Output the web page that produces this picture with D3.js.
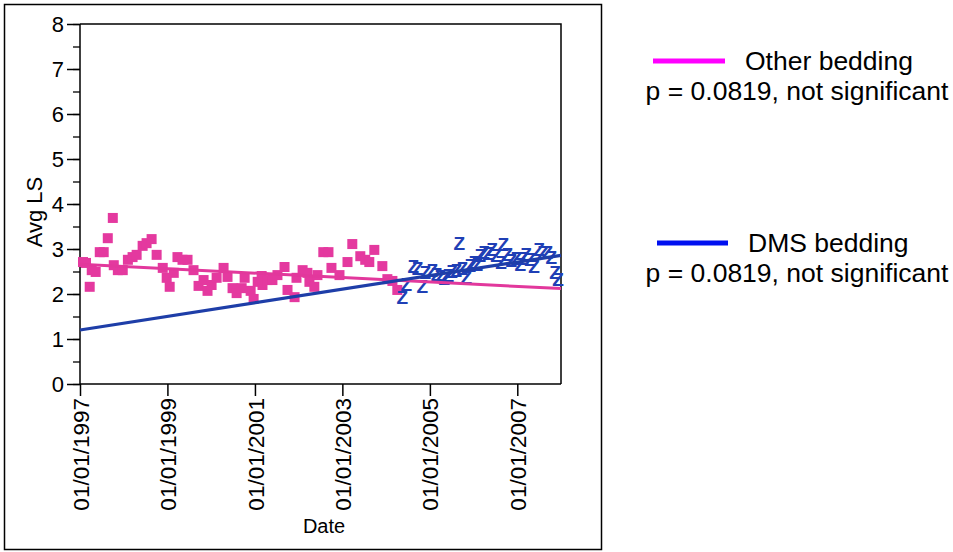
<!DOCTYPE html>
<html><head><meta charset="utf-8">
<script src="https://cdn.jsdelivr.net/npm/d3@7"></script>
<style>
body{margin:0;background:#fff;}
text{font-family:Arial,"Liberation Sans",sans-serif;fill:#000;}
</style></head>
<body><svg id="c" width="953" height="552"></svg>
<script>
// ---- data ----
const otherDates = ["1997-01-26","1997-02-20","1997-03-23","1997-04-09","1997-05-12","1997-06-15","1997-07-18","1997-08-21","1997-10-02","1997-10-10","1997-11-13","1997-12-24","1998-02-05","1998-03-16","1998-04-19","1998-06-08","1998-07-11","1998-08-22","1998-10-03","1998-11-23","1998-12-26","1999-01-20","1999-02-23","1999-03-26","1999-05-07","1999-06-18","1999-08-07","1999-09-18","1999-10-30","1999-12-02","2000-01-05","2000-02-16","2000-04-14","2000-05-17","2000-06-28","2000-08-01","2000-09-12","2000-10-07","2000-11-26","2000-12-21","2001-01-24","2001-02-26","2001-03-05","2001-04-16","2001-05-27","2001-07-08","2001-09-05","2001-09-30","2001-11-28","2001-12-14","2002-02-03","2002-03-15","2002-04-01","2002-05-12","2002-06-07","2002-07-26","2002-09-07","2002-10-02","2002-12-08","2003-02-13","2003-03-25","2003-05-31","2003-07-11","2003-08-14","2003-09-25","2003-12-01","2004-01-12","2004-02-23","2004-04-04"];
const otherValues = [2.71,2.69,2.16,2.53,2.49,2.93,2.93,3.24,3.69,2.64,2.53,2.53,2.76,2.82,2.87,3.07,3.13,3.22,2.87,2.58,2.36,2.16,2.47,2.82,2.76,2.76,2.53,2.18,2.31,2.07,2.20,2.36,2.58,2.38,2.13,2.02,2.13,2.36,2.07,1.89,2.27,2.40,2.20,2.31,2.31,2.42,2.60,2.09,1.93,2.36,2.53,2.47,2.27,2.16,2.42,2.93,2.93,2.58,2.42,2.71,3.11,2.84,2.76,2.71,2.98,2.62,2.33,2.29,2.09];
const dmsDates = ["2004-05-15","2004-06-18","2004-08-16","2004-09-19","2004-10-30","2004-11-24","2005-01-22","2005-02-25","2005-03-28","2005-05-01","2005-06-04","2005-07-06","2005-08-09","2005-09-04","2005-09-29","2005-11-02","2005-12-05","2006-01-08","2006-02-02","2006-02-27","2006-03-30","2006-05-02","2006-06-05","2006-07-08","2006-08-19","2006-09-06","2006-10-09","2006-11-12","2006-12-23","2007-01-26","2007-02-19","2007-03-15","2007-04-18","2007-05-21","2007-07-02","2007-08-05","2007-09-08","2007-10-11","2007-11-13","2007-12-08"];
const dmsValues = [1.93,2.22,2.62,2.58,2.18,2.49,2.53,2.44,2.40,2.36,2.42,2.51,2.53,3.13,2.58,2.38,2.64,2.71,2.67,2.87,2.93,2.91,3.00,2.87,2.71,3.11,2.89,2.76,2.80,2.67,2.80,2.89,2.78,2.62,3.00,2.93,2.93,2.82,2.49,2.33];
const fitDates = ["1997-01-01","2008-01-01"];
const otherFit = [2.66, 2.12];
const dmsFit = [1.20, 2.86];
const yTickValues = [0,1,2,3,4,5,6,7,8];
const xTickYears = [1997,1999,2001,2003,2005,2007];
const legendItems = [
  {name:"Other bedding", note:"p = 0.0819, not significant"},
  {name:"DMS bedding", note:"p = 0.0819, not significant"}
];

// ---- drawing ----
const parse = d3.timeParse("%Y-%m-%d");
const svg = d3.select("#c");
const L=80, R=561, T=24, B=384;
const x = d3.scaleTime().domain([new Date(1997,0,1), new Date(2008,0,1)]).range([L,R]);
const y = d3.scaleLinear().domain([0,8]).range([B,T]);

const pinkM = "#e4399f", pinkL = "#e2389c", blueM = "#1f3fb5", blueL = "#1e3ea8";
const FONT = "Arial, 'Liberation Sans', sans-serif";

// outer border
svg.append("rect").attr("x",4.5).attr("y",4.5).attr("width",597).attr("height",545)
  .attr("fill","none").attr("stroke","#000").attr("stroke-width",1.5);

// frame top & right
svg.append("path").attr("d",`M${L},${T}H${R}V${B}`).attr("fill","none").attr("stroke","#000").attr("stroke-width",1.5);

// y axis minor ticks
const minor = d3.range(0,8.01,0.5);
const gyMinor = svg.append("g").attr("transform",`translate(${L},0)`)
  .call(d3.axisLeft(y).tickValues(minor).tickSize(7).tickFormat(""));
gyMinor.select(".domain").remove();
gyMinor.selectAll("line").attr("stroke-width",1.3);
// y axis major
const gy = svg.append("g").attr("transform",`translate(${L},0)`)
  .call(d3.axisLeft(y).tickValues(yTickValues).tickSize(13).tickPadding(3).tickFormat(d3.format("d")));
gy.attr("font-size",null).attr("font-family",null);
gy.select(".domain").attr("stroke-width",1.5).attr("d",`M0,${B}V${T}`);
gy.selectAll("line").attr("stroke-width",1.5);
gy.selectAll("text").style("font-size","22px").style("font-family",FONT).attr("fill","#000");

// x axis
const xTicks = xTickYears.map(yr => new Date(yr,0,1));
const gx = svg.append("g").attr("transform",`translate(0,${B})`)
  .call(d3.axisBottom(x).tickValues(xTicks).tickSize(12).tickFormat(d3.timeFormat("%m/%d/%Y")));
gx.attr("font-size",null).attr("font-family",null);
gx.select(".domain").attr("stroke-width",1.5).attr("d",`M${L},0H${R}`);
gx.selectAll("line").attr("stroke-width",1.5);
gx.selectAll("text").style("font-size","22.5px").style("font-family",FONT).attr("fill","#000")
  .attr("transform","rotate(-90)").attr("text-anchor","end").attr("x",-14).attr("y",0).attr("dy","0.36em");

// axis titles
svg.append("text").attr("x",324).attr("y",533).attr("text-anchor","middle").style("font-size","20px").text("Date");
svg.append("text").attr("transform","translate(42,212) rotate(-90)").attr("text-anchor","middle").style("font-size","22px").text("Avg LS");

// points
const other = otherDates.map((d,i)=>({d:parse(d), v:otherValues[i]}));
const dms = dmsDates.map((d,i)=>({d:parse(d), v:dmsValues[i]}));
const sq = 10;
svg.append("g").selectAll("rect").data(other).join("rect")
  .attr("x",p=>x(p.d)-sq/2).attr("y",p=>y(p.v)-sq/2).attr("width",sq).attr("height",sq)
  .attr("fill",pinkM);
// "Z" glyph markers
svg.append("g").selectAll("text").data(dms).join("text")
  .attr("x",p=>x(p.d)).attr("y",p=>y(p.v)).attr("dy","0.36em").attr("text-anchor","middle")
  .style("font-size","19px").attr("font-weight","bold").style("fill",blueM).text("Z");

// fit lines
const line = d3.line().x(p=>x(p.d)).y(p=>y(p.v));
const otherFitData = fitDates.map((d,i)=>({d:parse(d), v:otherFit[i]}));
const dmsFitData = fitDates.map((d,i)=>({d:parse(d), v:dmsFit[i]}));
svg.append("path").datum(otherFitData).attr("d",line).attr("fill","none").attr("stroke",pinkL).attr("stroke-width",3);
svg.append("path").datum(dmsFitData).attr("d",line).attr("fill","none").attr("stroke",blueL).attr("stroke-width",3.2);

// legend
const legColors = ["#ff00ff","#0010f0"];
const legY = [61, 243];
const lineX = [[653,725],[657,728]];
legendItems.forEach((it,i)=>{
  svg.append("line").attr("x1",lineX[i][0]).attr("x2",lineX[i][1]).attr("y1",legY[i]).attr("y2",legY[i])
    .attr("stroke",legColors[i]).attr("stroke-width",5);
  svg.append("text").attr("x",lineX[i][1]+20).attr("y",legY[i]+9).style("font-size","26.5px").text(it.name);
  svg.append("text").attr("x",797).attr("y",legY[i]+39).attr("text-anchor","middle").style("font-size","26.5px").text(it.note);
});
</script></body></html>
